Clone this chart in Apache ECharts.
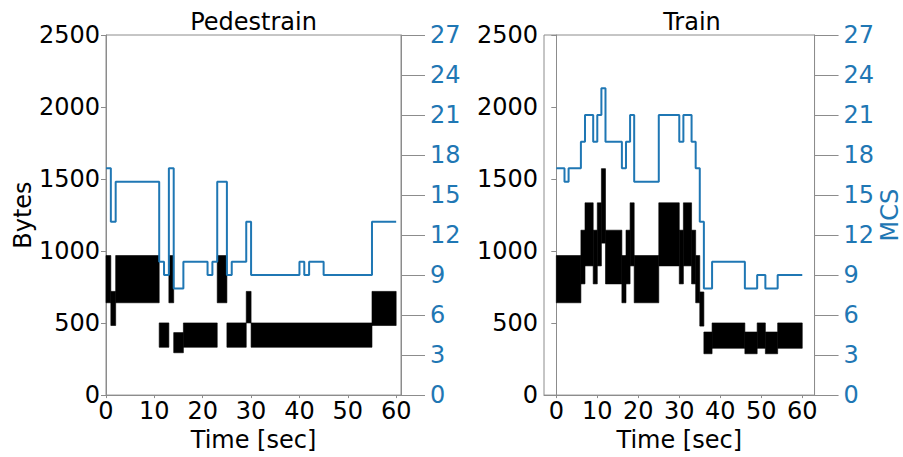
<!DOCTYPE html>
<html>
<head>
<meta charset="utf-8">
<script src="https://cdn.jsdelivr.net/npm/echarts@6/dist/echarts.min.js"></script>
<style>
  html, body { margin: 0; padding: 0; background: #fff; }
  #chart { width: 903px; height: 457px; }
</style>
</head>
<body>
<div id="chart"></div>
<script>
// Panel titles
const panelTitles = ['Pedestrain', 'Train'];

// Axis ticks
const timeTicks = [0, 10, 20, 30, 40, 50, 60];

// Pedestrain: MCS step changes (time in sec, MCS index held until next change)
const pedMcsTime = [0, 1, 2, 11, 12, 13, 14, 16, 21, 22, 23, 25, 26, 29, 30, 40, 41, 42, 45, 55, 60];
const pedMcsValue = [17, 13, 16, 10, 9, 17, 8, 10, 9, 10, 16, 9, 10, 13, 9, 10, 9, 10, 9, 13, 13];

// Pedestrain: byte range per interval [start, end, min bytes, max bytes]
const pedStart = [0, 1, 2, 11, 13, 14, 16, 23, 25, 29, 30, 55];
const pedEnd   = [1, 2, 11, 13, 14, 16, 23, 25, 29, 30, 55, 60];
const pedMin   = [641, 483, 641, 332, 641, 294, 332, 641, 332, 501, 332, 483];
const pedMax   = [969, 720, 969, 501, 969, 434, 501, 969, 501, 720, 501, 720];

// Train: MCS step changes
const trainMcsTime = [0, 2, 3, 6, 7, 9, 10, 11, 12, 16, 17, 18, 19, 25, 30, 31, 33, 34, 35, 36, 38, 46, 49, 51, 54, 60];
const trainMcsValue = [17, 16, 17, 19, 21, 19, 21, 23, 19, 17, 19, 21, 16, 21, 19, 21, 19, 17, 13, 8, 10, 8, 9, 8, 9, 9];

// Train: byte range per interval
const trainStart = [0, 6, 7, 9, 10, 11, 12, 16, 17, 18, 19, 25, 30, 31, 33, 34, 35, 36, 38, 46, 49, 51, 54];
const trainEnd   = [6, 7, 9, 10, 11, 12, 16, 17, 18, 19, 25, 30, 31, 33, 34, 35, 36, 38, 46, 49, 51, 54, 60];
const trainMin   = [641, 772, 897, 772, 897, 1055, 772, 641, 772, 897, 641, 897, 772, 897, 772, 641, 479, 287, 325, 287, 325, 287, 325];
const trainMax   = [969, 1145, 1335, 1145, 1335, 1572, 1145, 969, 1145, 1335, 969, 1335, 1145, 1335, 1145, 969, 716, 438, 501, 438, 501, 438, 501];

const FONT = 'DejaVu Sans';
const BLUE = '#1f77b4';
const SPINE = '#8c8c8c';

function bandData(s, e, lo, hi) {
  return s.map((t, i) => [t, e[i], lo[i], hi[i]]);
}
function stepData(t, v) {
  return t.map((x, i) => [x, v[i]]);
}
const plain = v => String(v);

function renderBand(params, api) {
  const topLeft = api.coord([api.value(0), api.value(3)]);
  const botRight = api.coord([api.value(1), api.value(2)]);
  return {
    type: 'rect',
    shape: {
      x: topLeft[0],
      y: topLeft[1],
      width: botRight[0] - topLeft[0],
      height: botRight[1] - topLeft[1]
    },
    style: { fill: '#000', stroke: '#000', lineWidth: 0.6 }
  };
}

const grids = [
  { left: 106, top: 35, width: 295, height: 369 },
  { left: 544, top: 35, width: 296, height: 369 }
];

function xAxisFor(gridIndex, min, max) {
  return {
    type: 'value', gridIndex, min, max,
    name: 'Time [sec]', nameLocation: 'middle', nameGap: 19,
    nameTextStyle: { fontFamily: FONT, fontSize: 24, color: '#000' },
    axisLine: { show: true, lineStyle: { color: SPINE, width: 1 } },
    axisTick: { show: true, length: 3, lineStyle: { color: SPINE }, customValues: timeTicks },
    axisLabel: { fontFamily: FONT, fontSize: 24, color: '#000', margin: 4, customValues: timeTicks, formatter: plain },
    splitLine: { show: false }
  };
}

function bytesAxis(gridIndex, withName) {
  return {
    type: 'value', gridIndex, position: 'left', min: 0, max: 2500, interval: 500,
    name: withName ? 'Bytes' : '', nameLocation: 'middle', nameRotate: 90, nameGap: 62,
    nameTextStyle: { fontFamily: FONT, fontSize: 24, color: '#000' },
    axisLine: { show: true, lineStyle: { color: SPINE, width: 1 } },
    axisTick: { show: true, length: 5, lineStyle: { color: SPINE } },
    axisLabel: { fontFamily: FONT, fontSize: 24, color: '#000', margin: 6, formatter: plain },
    splitLine: { show: false }
  };
}

function mcsAxis(gridIndex, withName) {
  return {
    type: 'value', gridIndex, position: 'right', min: 0, max: 27, interval: 3,
    name: withName ? 'MCS' : '', nameLocation: 'middle', nameRotate: 90, nameGap: 47,
    nameTextStyle: { fontFamily: FONT, fontSize: 24, color: BLUE },
    axisLine: { show: true, lineStyle: { color: SPINE, width: 1 } },
    axisTick: { show: true, length: 24, lineStyle: { color: SPINE } },
    axisLabel: { fontFamily: FONT, fontSize: 24, color: BLUE, margin: 29, formatter: plain },
    splitLine: { show: false }
  };
}

const chart = echarts.init(document.getElementById('chart'), null, { renderer: 'svg' });

chart.setOption({
  animation: false,
  backgroundColor: '#fff',
  title: [
    { text: panelTitles[0], left: 253.5, top: 10, textAlign: 'center', padding: 0,
      textStyle: { fontFamily: FONT, fontSize: 24, fontWeight: 'normal', color: '#000' } },
    { text: panelTitles[1], left: 692, top: 10, textAlign: 'center', padding: 0,
      textStyle: { fontFamily: FONT, fontSize: 24, fontWeight: 'normal', color: '#000' } }
  ],
  grid: grids.map(g => Object.assign({ show: true, borderColor: SPINE, borderWidth: 1, backgroundColor: 'transparent' }, g)),
  xAxis: [xAxisFor(0, 0, 61), xAxisFor(1, -3, 63)],
  yAxis: [bytesAxis(0, true), mcsAxis(0, false), bytesAxis(1, false), mcsAxis(1, true)],
  series: [
    {
      type: 'custom', name: 'Bytes', xAxisIndex: 0, yAxisIndex: 0,
      renderItem: renderBand, encode: { x: [0, 1], y: [2, 3] },
      data: bandData(pedStart, pedEnd, pedMin, pedMax), z: 2
    },
    {
      type: 'line', name: 'MCS', xAxisIndex: 0, yAxisIndex: 1, step: 'end',
      showSymbol: false, lineStyle: { color: BLUE, width: 2 },
      data: stepData(pedMcsTime, pedMcsValue), z: 3
    },
    {
      type: 'custom', name: 'Bytes', xAxisIndex: 1, yAxisIndex: 2,
      renderItem: renderBand, encode: { x: [0, 1], y: [2, 3] },
      data: bandData(trainStart, trainEnd, trainMin, trainMax), z: 2
    },
    {
      type: 'line', name: 'MCS', xAxisIndex: 1, yAxisIndex: 3, step: 'end',
      showSymbol: false, lineStyle: { color: BLUE, width: 2 },
      data: stepData(trainMcsTime, trainMcsValue), z: 3
    }
  ]
});
</script>
</body>
</html>
